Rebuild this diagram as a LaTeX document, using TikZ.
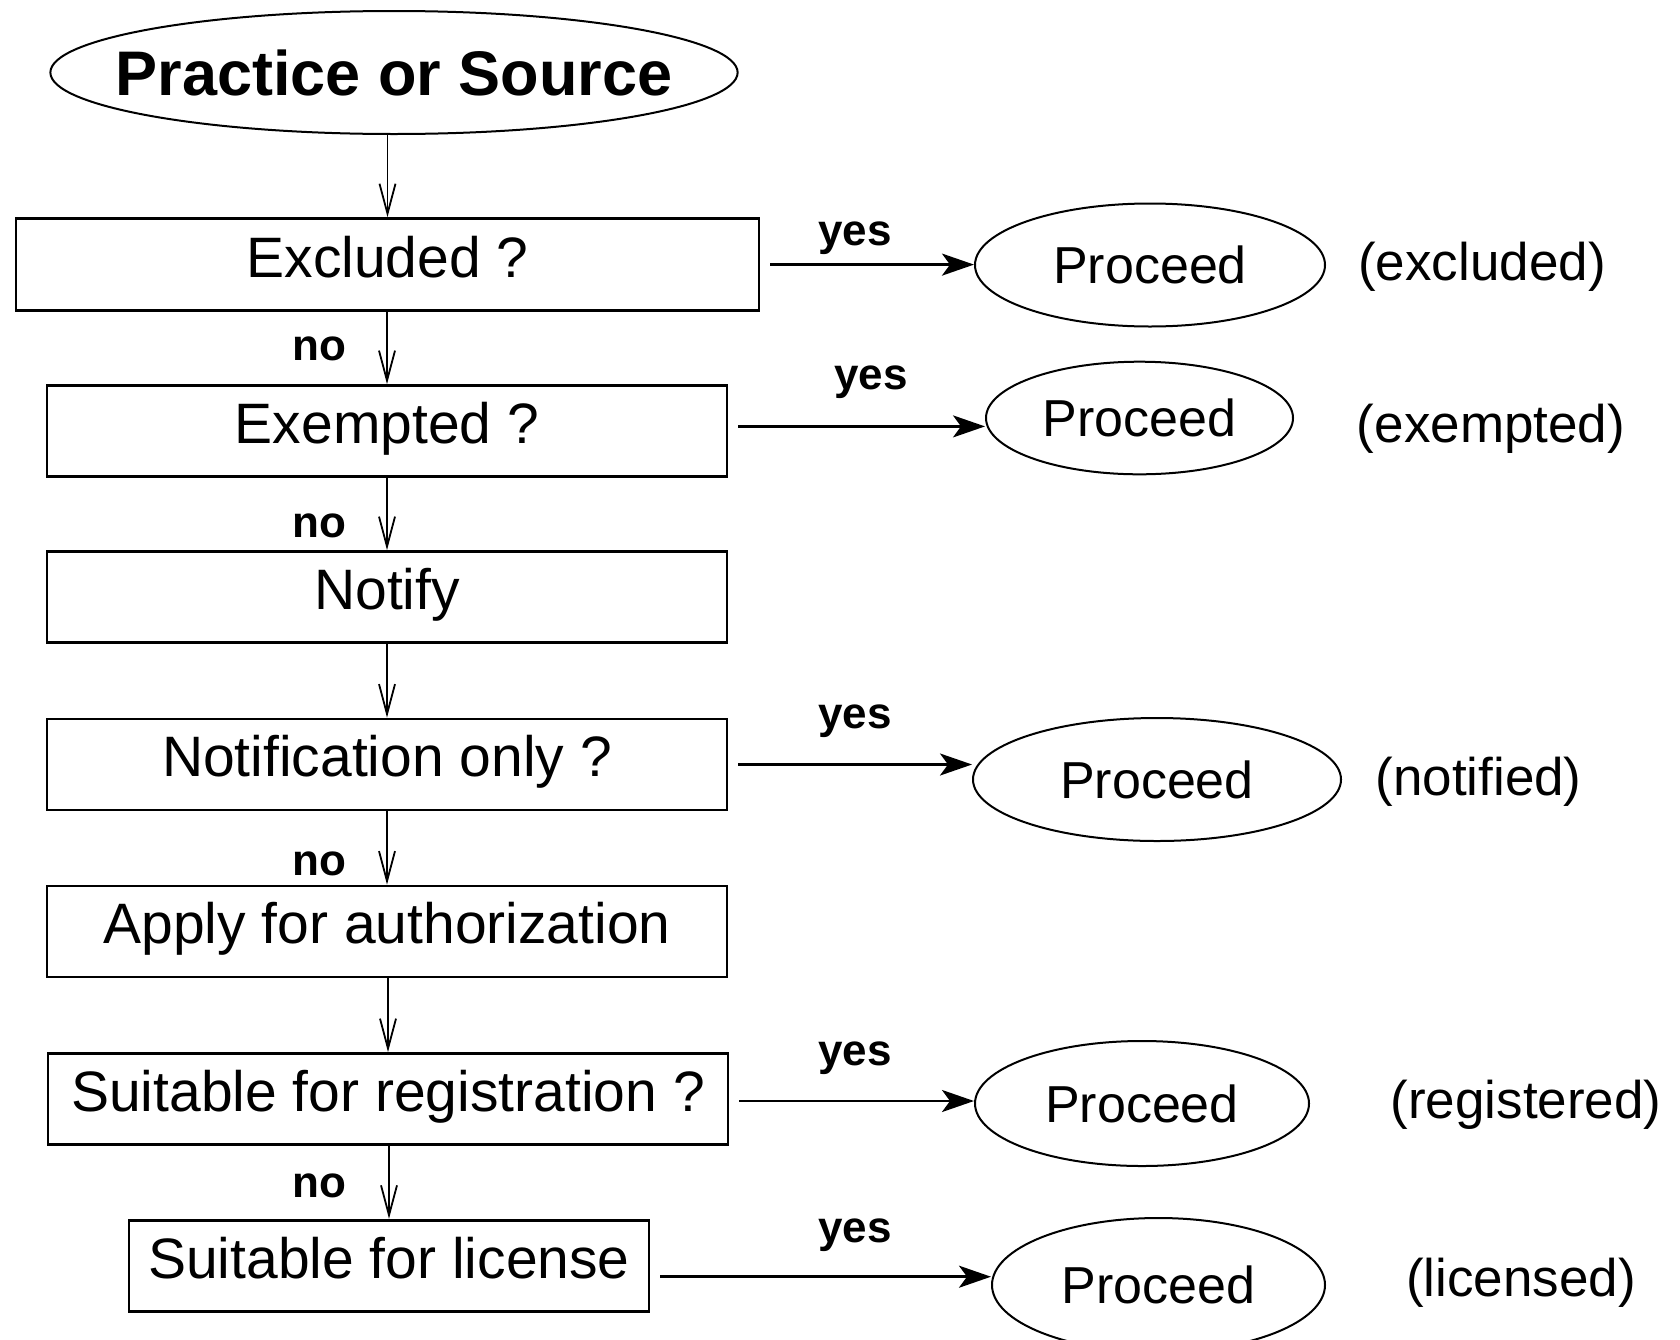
\documentclass[tikz,border=0pt]{standalone}
\usepackage{fontspec}
\setmainfont{Liberation Sans}
\usetikzlibrary{shapes.geometric,arrows.meta}
\begin{document}
\begin{tikzpicture}[x=0.5pt,y=-0.5pt,
  box/.style={draw,line width=1.4pt,rectangle,inner sep=0pt,minimum height=45.5pt,
    text height=20.4pt,text depth=8pt,font=\fontsize{28.5}{32}\selectfont},
  oval/.style={draw,line width=1pt,ellipse,inner sep=0pt,
    text height=18.6pt,text depth=0pt,font=\fontsize{26}{30}\selectfont},
  result/.style={font=\fontsize{26.5}{30}\selectfont},
  lbl/.style={font=\bfseries\fontsize{22}{26}\selectfont},
  down/.style={-{Straight Barb[length=15pt,width=8pt]},line width=0.9pt},
  side/.style={-{Stealth[length=16pt,width=11pt,inset=4pt]},line width=1.3pt,shorten <=5pt}]

\useasboundingbox (0,0) rectangle (1680,1339);

% start
\node[draw,ellipse,line width=1pt,inner ysep=0pt,inner xsep=-17.7pt,minimum width=343pt,minimum height=61.5pt,
  font=\bfseries\fontsize{31.5}{36}\selectfont] (top) at (394,72.5) {Practice or Source};

% decision boxes
\node[box,minimum width=371.5pt,minimum height=46pt] (b1) at (387.5,264.6) {Excluded ?};
\node[box,minimum width=340pt] (b2) at (387,431) {Exempted ?};
\node[box,minimum width=340pt] (b3) at (387,597) {Notify};
\node[box,minimum width=340pt] (b4) at (387,764.5) {Notification only ?};
\node[box,minimum width=340pt] (b5) at (387,931.5) {Apply for authorization};
\node[box,minimum width=340pt] (b6) at (388,1099) {Suitable for registration ?};
\node[box,minimum width=260pt] (b7) at (389,1265.7) {Suitable for license};

% proceed ellipses
\node[oval,minimum width=175pt,minimum height=61.5pt] (p1) at (1150,265) {Proceed};
\node[oval,minimum width=153.5pt,minimum height=56.3pt] (p2) at (1139.5,418) {Proceed};
\node[oval,minimum width=184pt,minimum height=61.5pt] (p3) at (1157,779.5) {Proceed};
\node[oval,minimum width=167pt,minimum height=62.5pt] (p4) at (1142,1103.5) {Proceed};
\node[oval,minimum width=166.5pt,minimum height=67pt] (p5) at (1158.5,1285) {Proceed};

% result labels
\node[result] (r1) at (1482,267) {(excluded)};
\node[result] (r2) at (1491,428.6) {(exempted)};
\node[result] (r3) at (1478.5,782) {(notified)};
\node[result] (r4) at (1526,1104.6) {(registered)};
\node[result] (r5) at (1521,1282.5) {(licensed)};

% yes / no labels
\node[lbl] (y1) at (855,238) {yes};
\node[lbl] (y2) at (871,382.5) {yes};
\node[lbl] (y3) at (855,721) {yes};
\node[lbl] (y4) at (855,1058.5) {yes};
\node[lbl] (y5) at (855,1235) {yes};
\node[lbl] (n1) at (319,349) {no};
\node[lbl] (n2) at (319,526) {no};
\node[lbl] (n3) at (319,863.5) {no};
\node[lbl] (n4) at (319,1186) {no};

% vertical connectors
\draw[down] (top.south -| b1.north) -- (b1.north);
\draw[down] (b1.south -| b2.north) -- (b2.north);
\draw[down] (b2.south) -- (b3.north);
\draw[down] (b3.south) -- (b4.north);
\draw[down] (b4.south) -- (b5.north);
\draw[down] (b5.south -| b6.north) -- (b6.north);
\draw[down] (b6.south -| b7.north) -- (b7.north);

% horizontal connectors
\draw[side] (b1.east) -- (b1.east -| p1.west);
\draw[side] ([yshift=2.3pt]b2.east) -- ([yshift=2.3pt]b2.east -| p2.west);
\draw[side] (b4.east) -- (b4.east -| p3.west);
\draw[side] ([yshift=-1pt]b6.east) -- ([yshift=-1pt]b6.east -| p4.west);
\draw[side] ([yshift=-5.5pt]b7.east) -- ([yshift=-5.5pt]b7.east -| p5.west);
\end{tikzpicture}
\end{document}
